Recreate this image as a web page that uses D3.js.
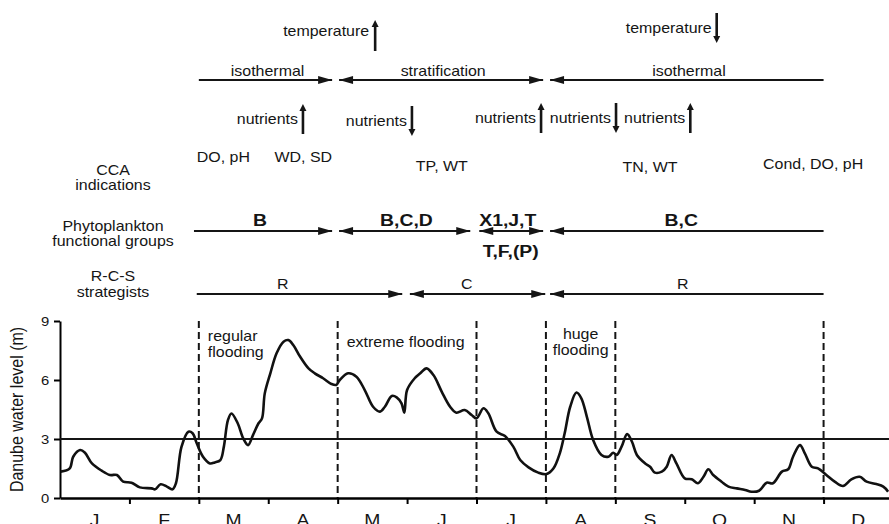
<!DOCTYPE html>
<html>
<head>
<meta charset="utf-8">
<script src="https://cdn.jsdelivr.net/npm/d3@7"></script>
<style>
  body { margin: 0; background: #fff; }
  text { font-family: "Liberation Sans", Arial, Helvetica, sans-serif; fill: #151515; }
</style>
</head>
<body>
<div id="chart"></div>
<script>
// month labels along the bottom
const months = ['J','F','M','A','M','J','J','A','S','O','N','D']
// time in months from 1 January, and Danube water level (m)
const monthPos = [0.01,0.14,0.19,0.29,0.36,0.46,0.60,0.72,0.82,0.91,1.03,1.15,1.32,1.37,1.45,1.54,1.62,1.67,1.75,1.85,1.91,1.97,
  2.06,2.16,2.23,2.31,2.36,2.42,2.47,2.56,2.64,2.71,2.78,2.86,2.91,2.95,3.03,3.12,3.22,3.29,3.36,3.46,3.58,3.67,3.79,3.91,3.98,
  4.03,4.15,4.27,4.39,4.51,4.61,4.68,4.78,4.85,4.92,4.96,5.00,5.11,5.19,5.28,5.38,5.50,5.62,5.71,5.83,5.93,6.00,
  6.10,6.17,6.29,6.41,6.53,6.63,6.75,6.89,7.01,7.11,7.20,7.27,7.35,7.44,7.51,7.59,7.68,7.80,7.90,7.97,
  8.02,8.09,8.17,8.24,8.31,8.43,8.50,8.57,8.67,8.74,8.81,8.88,9.00,9.10,9.19,9.27,9.34,9.41,9.53,9.63,9.75,9.87,9.96,
  10.07,10.18,10.27,10.40,10.49,10.56,10.66,10.73,10.83,10.92,11.04,11.16,11.28,11.40,11.52,11.62,11.76,11.86,11.93]
const level = [1.34,1.51,2.1,2.44,2.3,1.76,1.39,1.17,1.17,0.83,0.78,0.54,0.49,0.44,0.70,0.58,0.44,0.75,2.6,3.37,3.29,2.78,
  2.1,1.76,1.81,1.93,2.6,3.97,4.3,3.8,3.03,2.69,3.2,3.8,4.05,5.32,6.34,7.36,7.95,8.03,7.78,7.18,6.59,6.34,6.09,5.8,5.75,
  6.0,6.34,6.17,5.49,4.64,4.39,4.64,5.19,5.12,4.81,4.34,5.49,6.09,6.34,6.59,6.25,5.4,4.64,4.34,4.47,4.22,4.05,
  4.56,4.31,3.37,3.15,2.61,1.93,1.56,1.29,1.22,1.51,2.27,3.29,4.64,5.36,5.07,4.13,2.95,2.19,2.1,2.3,
  2.19,2.61,3.25,2.86,2.19,1.76,1.59,1.29,1.34,1.59,2.19,1.76,1.0,0.95,0.75,1.08,1.46,1.17,0.83,0.58,0.49,0.41,0.32,
  0.37,0.78,0.75,1.34,1.46,2.1,2.69,2.27,1.59,1.51,1.17,0.83,0.61,0.95,1.08,0.83,0.71,0.58,0.32]
const yTicks = [0, 3, 6, 9]
const threshold = 3
const phaseBreaks = [2, 4, 6, 7, 8, 11]   // dashed lines (month starts)
const floodLabels = [
  {lines:['regular','flooding'], at:2.13, anchor:'start'},
  {lines:['extreme flooding'], at:4.13, anchor:'start'},
  {lines:['huge','flooding'], at:7.5, anchor:'middle'}
]

// annotation rows: arrows in months, heads 's' start, 'e' end
const regimeArrows = [
  {from:2.0, to:3.92, heads:'e', label:'isothermal', at:2.99},
  {from:4.02, to:6.96, heads:'se', label:'stratification', at:5.52},
  {from:7.06, to:11.0, heads:'s', label:'isothermal', at:9.06}
]
const temperature = [{at:4.54, dir:'up'}, {at:9.46, dir:'down'}]
const nutrients = [{at:3.5, dir:'up'}, {at:5.07, dir:'down'}, {at:6.93, dir:'up'}, {at:8.01, dir:'down'}, {at:9.08, dir:'up'}]
const ccaLabels = [
  {text:'DO, pH', at:1.97, anchor:'start', dy:0},
  {text:'WD, SD', at:3.92, anchor:'end', dy:0},
  {text:'TP, WT', at:5.5, anchor:'middle', dy:9},
  {text:'TN, WT', at:8.5, anchor:'middle', dy:10},
  {text:'Cond, DO, pH', at:10.85, anchor:'middle', dy:7}
]
const groupArrows = [
  {from:1.93, to:3.92, heads:'e', label:'B', at:2.88},
  {from:4.02, to:5.91, heads:'se', label:'B,C,D', at:4.99},
  {from:6.04, to:6.96, heads:'se', label:'X1,J,T', at:6.45, below:'T,F,(P)'},
  {from:7.06, to:11.0, heads:'s', label:'B,C', at:8.95}
]
const strategyArrows = [
  {from:1.97, to:4.93, heads:'e', label:'R', at:3.21},
  {from:5.04, to:6.99, heads:'se', label:'C', at:5.86},
  {from:7.06, to:11.0, heads:'s', label:'R', at:8.97}
]

let width = 889
let height = 524
let sx = 1.14   // the figure text is a little wider than tall

var svg = d3.select('#chart').append('svg').attr('width', width).attr('height', height)

let x = d3.scaleLinear().domain([0, 12]).range([60, 893])
let y = d3.scaleLinear().domain([0, 9]).range([498, 321])

// text helper, stretched horizontally
function label(x0, y0, s, anchor, size, weight){
  return svg.append('text')
    .attr('transform', 'translate(' + x0 + ',' + y0 + ') scale(' + sx + ',1)')
    .attr('text-anchor', anchor || 'middle')
    .style('font-size', (size || 14) + 'px')
    .style('font-weight', weight || 'normal')
    .text(s)
}

// horizontal arrow with filled heads
function hArrow(a, yy){
  let x1 = x(a.from), x2 = x(a.to)
  svg.append('line').attr('x1', x1).attr('x2', x2).attr('y1', yy).attr('y2', yy)
    .attr('stroke', '#151515').attr('stroke-width', 1.8)
  if(a.heads.includes('e')){
    svg.append('path').attr('d', 'M' + x2 + ',' + yy + 'l-14,-4l0,8z').attr('fill', '#151515')
  }
  if(a.heads.includes('s')){
    svg.append('path').attr('d', 'M' + x1 + ',' + yy + 'l14,-4l0,8z').attr('fill', '#151515')
  }
}

// small vertical arrow
function vArrow(xx, top, bottom, dir){
  svg.append('line').attr('x1', xx).attr('x2', xx).attr('y1', dir == 'up' ? top + 4 : top).attr('y2', dir == 'up' ? bottom : bottom - 4)
    .attr('stroke', '#151515').attr('stroke-width', 2.6)
  let tip = dir == 'up' ? top : bottom
  let d = dir == 'up' ? 'M' + xx + ',' + tip + 'l-3.5,7l7,0z' : 'M' + xx + ',' + tip + 'l-3.5,-7l7,0z'
  svg.append('path').attr('d', d).attr('fill', '#151515')
}

/* top rows */
temperature.forEach(function(t){
  let xx = x(t.at)
  if(t.dir == 'up'){
    vArrow(xx, 20, 51, 'up'); label(xx - 6, 36, 'temperature', 'end')
  } else {
    vArrow(xx, 13, 43, 'down'); label(xx - 5, 33, 'temperature', 'end')
  }
})
regimeArrows.forEach(function(a){
  hArrow(a, 80)
  label(x(a.at), 76, a.label)
})
nutrients.forEach(function(n, i){
  let xx = x(n.at)
  let off = i < 2 ? (i == 0 ? 1 : 3) : 0
  vArrow(xx, 103 + off, 133 + off, n.dir)
  label(xx - 5, 123 + off, 'nutrients', 'end')
})

// left side row titles
label(113, 175, 'CCA'); label(113, 190, 'indications')
label(113, 231, 'Phytoplankton'); label(113, 246, 'functional groups')
label(113, 281, 'R-C-S'); label(113, 297, 'strategists')

ccaLabels.forEach(function(c){
  label(x(c.at), 162 + c.dy, c.text, c.anchor)
})
groupArrows.forEach(function(a){
  hArrow(a, 231)
  label(x(a.at), 226, a.label, 'middle', 17, 'bold')
  if(a.below) label(x(a.at) + 3, 257, a.below, 'middle', 17, 'bold')
})
strategyArrows.forEach(function(a){
  hArrow(a, 294)
  label(x(a.at), 289, a.label)
})

/* plot */
// dashed phase lines
svg.append('g').selectAll('line').data(phaseBreaks).enter().append('line')
  .attr('x1', d => x(d)).attr('x2', d => x(d))
  .attr('y1', y(9)).attr('y2', y(0))
  .attr('stroke', '#151515').attr('stroke-width', 2).attr('stroke-dasharray', '7,4')

// axes
let xAxis = svg.append('g').attr('transform', 'translate(0,' + y(0) + ')')
  .call(d3.axisBottom(x).tickValues(d3.range(1, 12)).tickFormat('').tickSize(6).tickSizeOuter(0))
xAxis.select('.domain').attr('stroke-width', 2.5)
xAxis.selectAll('.tick line').attr('stroke-width', 2)

let yAxis = svg.append('g').attr('transform', 'translate(' + x(0) + ',0)')
  .call(d3.axisLeft(y).tickValues(yTicks).tickFormat('').tickSize(6).tickSizeOuter(0))
yAxis.select('.domain').attr('stroke-width', 2)
yAxis.selectAll('.tick line').attr('stroke-width', 2)
yTicks.forEach(function(t){ label(45, y(t) + 5, String(t), 'middle', 13) })

svg.append('text')
  .attr('transform', 'translate(23,' + y(4.5) + ') scale(' + sx + ',1) rotate(-90)')
  .attr('text-anchor', 'middle').style('font-size', '16px')
  .text('Danube water level (m)')

months.forEach(function(m, i){ label(x(i + 0.5), 526, m, 'middle', 17) })

// threshold at 3 m
svg.append('line').attr('x1', x(0)).attr('x2', width).attr('y1', y(threshold)).attr('y2', y(threshold))
  .attr('stroke', '#151515').attr('stroke-width', 2)

// water level line
let points = monthPos.map((m, i) => [m, level[i]])
svg.append('path').datum(points)
  .attr('d', d3.line().x(d => x(d[0])).y(d => y(d[1])).curve(d3.curveCatmullRom.alpha(0.5)))
  .attr('fill', 'none').attr('stroke', '#111').attr('stroke-width', 2.6).attr('stroke-linejoin', 'round')

floodLabels.forEach(function(f){
  f.lines.forEach(function(s, i){
    let yy = f.lines.length == 1 ? 347 : (f.anchor == 'start' ? 341 : 339) + i * 16
    label(x(f.at), yy, s, f.anchor)
  })
})
</script>
</body>
</html>
